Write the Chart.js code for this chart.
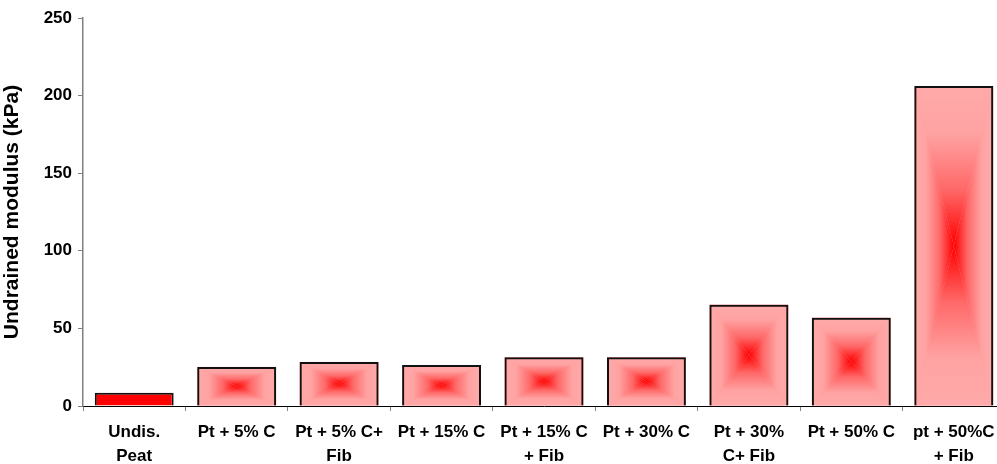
<!DOCTYPE html>
<html>
<head>
<meta charset="utf-8">
<script src="https://cdn.jsdelivr.net/npm/chart.js@4/dist/chart.umd.min.js"></script>
<style>
    html, body { margin: 0; padding: 0; background: #fff; overflow: hidden; }
    #wrap { width: 1010px; height: 464px; }
</style>
</head>
<body>
<div id="wrap"><canvas id="chart"></canvas></div>
<script>
// chart data
var categories = [
    ['Undis.', 'Peat'],
    'Pt + 5% C',
    ['Pt + 5% C+', 'Fib'],
    'Pt + 15% C',
    ['Pt + 15% C', '+ Fib'],
    'Pt + 30% C',
    ['Pt + 30%', 'C+ Fib'],
    'Pt + 50% C',
    ['pt + 50%C', '+ Fib']
];
var modulusValues = [8.5, 25.2, 28.4, 26.4, 31.4, 31.4, 65.3, 56.9, 206.2];
var yTicks = [0, 50, 100, 150, 200, 250];

var FONT = '"Liberation Sans", Arial, sans-serif';
var EDGE = '#ffaaaa';

// rectangular "from centre" gradient, drawn as four triangles
function fillCentreGradient(ctx, l, t, r, b) {
    var cx = (l + r) / 2, cy = (t + b) / 2;
    function stops(g) {
        g.addColorStop(0, EDGE);
        g.addColorStop(0.3, '#ffa2a2');
        g.addColorStop(0.65, '#ff6868');
        g.addColorStop(1, '#ff0000');
        return g;
    }
    ctx.save();
    ctx.fillStyle = '#ff9a9a';
    ctx.fillRect(l, t, r - l, b - t);
    var tris = [
        [[l, t], [r, t], [cx, t, cx, cy]],
        [[l, b], [r, b], [cx, b, cx, cy]],
        [[l, t], [l, b], [l, cy, cx, cy]],
        [[r, t], [r, b], [r, cy, cx, cy]]
    ];
    tris.forEach(function(tr) {
        var g = tr[2];
        ctx.fillStyle = stops(ctx.createLinearGradient(g[0], g[1], g[2], g[3]));
        ctx.beginPath();
        ctx.moveTo(tr[0][0], tr[0][1]);
        ctx.lineTo(tr[1][0], tr[1][1]);
        ctx.lineTo(cx, cy);
        ctx.closePath();
        ctx.fill();
    });
    ctx.restore();
}

var gradientBars = {
    id: 'gradientBars',
    beforeDatasetsDraw: function(chart) {
        var ctx = chart.ctx;
        var meta = chart.getDatasetMeta(0);
        meta.data.forEach(function(bar, i) {
            if (i === 0) return;
            var p = bar.getProps(['x', 'y', 'base', 'width'], true);
            fillCentreGradient(ctx, p.x - p.width / 2, p.y, p.x + p.width / 2, p.base);
        });
    }
};

new Chart(document.getElementById('chart'), {
    type: 'bar',
    data: {
        labels: categories,
        datasets: [{
            data: modulusValues,
            backgroundColor: modulusValues.map(function(v, i) { return i === 0 ? '#ff0000' : 'rgba(0,0,0,0)'; }),
            borderColor: '#111',
            borderWidth: 2,
            borderSkipped: 'bottom',
            categoryPercentage: 1,
            barPercentage: 0.77
        }]
    },
    options: {
        responsive: true,
        maintainAspectRatio: false,
        animation: false,
        layout: { padding: { top: 18, right: 5, left: 0, bottom: 0 } },
        plugins: {
            legend: { display: false },
            tooltip: { enabled: false }
        },
        scales: {
            x: {
                grid: { drawOnChartArea: false, tickLength: 5, color: '#808080', lineWidth: 1 },
                border: { color: '#000', width: 1 },
                ticks: {
                    color: '#000',
                    font: { family: FONT, size: 17, weight: 'bold', lineHeight: 1.42 },
                    padding: 9,
                    maxRotation: 0,
                    autoSkip: false
                },
                afterFit: function(scale) { scale.height = 58; }
            },
            y: {
                min: 0,
                max: 250,
                afterBuildTicks: function(scale) {
                    scale.ticks = yTicks.map(function(v) { return { value: v }; });
                },
                grid: { drawOnChartArea: false, tickLength: 5, color: '#808080' },
                border: { color: '#808080', width: 1.5 },
                ticks: {
                    color: '#000',
                    font: { family: FONT, size: 17, weight: 'bold' },
                    padding: 6
                },
                title: {
                    display: true,
                    text: 'Undrained modulus (kPa)',
                    color: '#000',
                    font: { family: FONT, size: 21, weight: 'bold' },
                    padding: { top: 0, bottom: 4 }
                },
                afterFit: function(scale) { scale.width = 83; }
            }
        }
    },
    plugins: [gradientBars]
});
</script>
</body>
</html>
